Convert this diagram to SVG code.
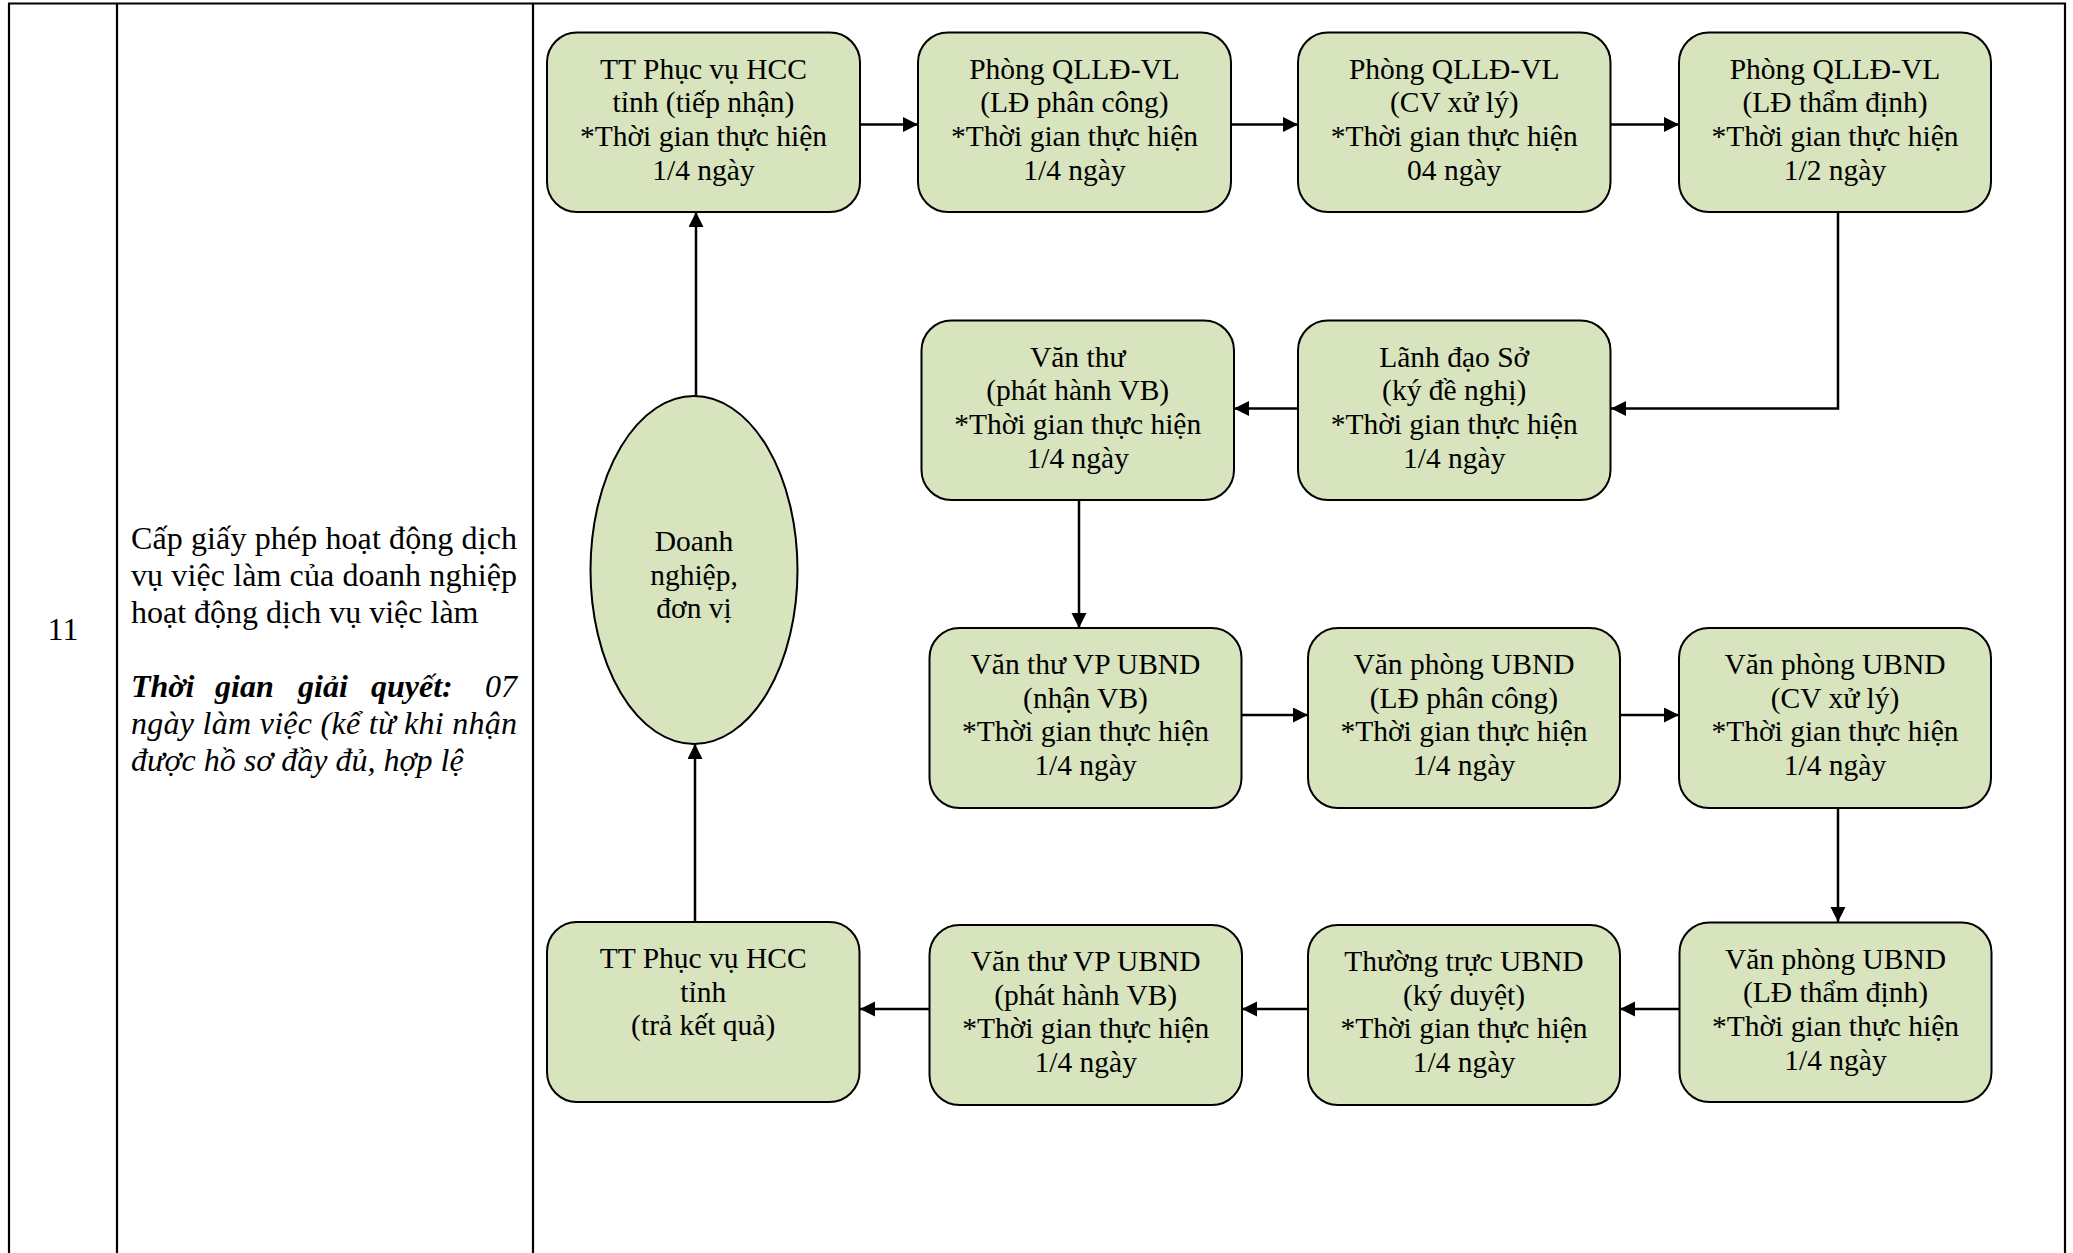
<svg xmlns="http://www.w3.org/2000/svg" width="2073" height="1253" viewBox="0 0 2073 1253">
<style>
.tbl{stroke:#000;stroke-width:2.2;fill:none}
.box{fill:#D7E4BD;stroke:#000;stroke-width:2}
.t{font-family:"Liberation Serif","Times New Roman",serif;font-size:29.5px;fill:#000;text-anchor:middle}
.c{font-family:"Liberation Serif","Times New Roman",serif;font-size:32px;fill:#000}
.bi{font-weight:bold;font-style:italic}
.i{font-style:italic}
.conn{stroke:#000;stroke-width:2.5;fill:none;marker-end:url(#arr)}
</style>
<defs>
<marker id="arr" markerUnits="userSpaceOnUse" markerWidth="16" markerHeight="16" refX="15" refY="7.5" orient="auto">
<path d="M0,0 L15,7.5 L0,15 z" fill="#000"/>
</marker>
</defs>
<rect width="2073" height="1253" fill="#fff"/>
<g id="table">
<line class="tbl" x1="8" y1="3.5" x2="2066" y2="3.5"/>
<line class="tbl" x1="9" y1="3.5" x2="9" y2="1253"/>
<line class="tbl" x1="117" y1="3.5" x2="117" y2="1253"/>
<line class="tbl" x1="533" y1="3.5" x2="533" y2="1253"/>
<line class="tbl" x1="2065" y1="3.5" x2="2065" y2="1253"/>
<text class="c" x="63" y="640" text-anchor="middle">11</text>
<text class="c" x="131" y="549" textLength="386" lengthAdjust="spacing">Cấp giấy phép hoạt động dịch</text>
<text class="c" x="131" y="586" textLength="386" lengthAdjust="spacing">vụ việc làm của doanh nghiệp</text>
<text class="c" x="131" y="623">hoạt động dịch vụ việc làm</text>
<text class="c bi" x="131" y="697">Thời</text>
<text class="c bi" x="215" y="697">gian</text>
<text class="c bi" x="298" y="697">giải</text>
<text class="c bi" x="371" y="697">quyết:</text>
<text class="c i" x="517" y="697" text-anchor="end">07</text>
<text class="c i" x="131" y="734" textLength="386" lengthAdjust="spacing">ngày làm việc (kể từ khi nhận</text>
<text class="c i" x="131" y="771">được hồ sơ đầy đủ, hợp lệ</text>
</g>
<g id="connectors">
<line class="conn" x1="860" y1="124.5" x2="918" y2="124.5"/>
<line class="conn" x1="1231" y1="124.5" x2="1298" y2="124.5"/>
<line class="conn" x1="1610" y1="124.5" x2="1679" y2="124.5"/>
<polyline class="conn" points="1838,212 1838,408.5 1611,408.5"/>
<line class="conn" x1="1298" y1="408.5" x2="1234" y2="408.5"/>
<line class="conn" x1="1079" y1="500" x2="1079" y2="628"/>
<line class="conn" x1="1241" y1="715" x2="1308" y2="715"/>
<line class="conn" x1="1620" y1="715" x2="1679" y2="715"/>
<line class="conn" x1="1838" y1="808" x2="1838" y2="922"/>
<line class="conn" x1="1679" y1="1009" x2="1620" y2="1009"/>
<line class="conn" x1="1308" y1="1009" x2="1242" y2="1009"/>
<line class="conn" x1="929" y1="1009" x2="860" y2="1009"/>
<line class="conn" x1="695" y1="922" x2="695" y2="744"/>
<line class="conn" x1="696" y1="396" x2="696" y2="212"/>
</g>
<g id="n1"><rect class="box" x="547" y="32.5" width="313" height="179.5" rx="30"/>
<text class="t" x="703.5" y="78.5">TT Phục vụ HCC</text><text class="t" x="703.5" y="112.2">tỉnh (tiếp nhận)</text><text class="t" x="703.5" y="145.8">*Thời gian thực hiện</text><text class="t" x="703.5" y="179.5">1/4 ngày</text></g>
<g id="n2"><rect class="box" x="918" y="32.5" width="313" height="179.5" rx="30"/>
<text class="t" x="1074.5" y="78.5">Phòng QLLĐ-VL</text><text class="t" x="1074.5" y="112.2">(LĐ phân công)</text><text class="t" x="1074.5" y="145.8">*Thời gian thực hiện</text><text class="t" x="1074.5" y="179.5">1/4 ngày</text></g>
<g id="n3"><rect class="box" x="1298" y="32.5" width="312.5" height="179.5" rx="30"/>
<text class="t" x="1454.2" y="78.5">Phòng QLLĐ-VL</text><text class="t" x="1454.2" y="112.2">(CV xử lý)</text><text class="t" x="1454.2" y="145.8">*Thời gian thực hiện</text><text class="t" x="1454.2" y="179.5">04 ngày</text></g>
<g id="n4"><rect class="box" x="1679" y="32.5" width="312" height="179.5" rx="30"/>
<text class="t" x="1835" y="78.5">Phòng QLLĐ-VL</text><text class="t" x="1835" y="112.2">(LĐ thẩm định)</text><text class="t" x="1835" y="145.8">*Thời gian thực hiện</text><text class="t" x="1835" y="179.5">1/2 ngày</text></g>
<g id="n5"><rect class="box" x="921.5" y="320.5" width="312.5" height="179.5" rx="30"/>
<text class="t" x="1077.7" y="366.5">Văn thư</text><text class="t" x="1077.7" y="400.2">(phát hành VB)</text><text class="t" x="1077.7" y="433.8">*Thời gian thực hiện</text><text class="t" x="1077.7" y="467.5">1/4 ngày</text></g>
<g id="n6"><rect class="box" x="1298" y="320.5" width="312.5" height="179.5" rx="30"/>
<text class="t" x="1454.2" y="366.5">Lãnh đạo Sở</text><text class="t" x="1454.2" y="400.2">(ký đề nghị)</text><text class="t" x="1454.2" y="433.8">*Thời gian thực hiện</text><text class="t" x="1454.2" y="467.5">1/4 ngày</text></g>
<g id="n7"><rect class="box" x="929.5" y="628" width="312" height="180" rx="30"/>
<text class="t" x="1085.5" y="674">Văn thư VP UBND</text><text class="t" x="1085.5" y="707.7">(nhận VB)</text><text class="t" x="1085.5" y="741.3">*Thời gian thực hiện</text><text class="t" x="1085.5" y="775">1/4 ngày</text></g>
<g id="n8"><rect class="box" x="1308" y="628" width="312" height="180" rx="30"/>
<text class="t" x="1464" y="674">Văn phòng UBND</text><text class="t" x="1464" y="707.7">(LĐ phân công)</text><text class="t" x="1464" y="741.3">*Thời gian thực hiện</text><text class="t" x="1464" y="775">1/4 ngày</text></g>
<g id="n9"><rect class="box" x="1679" y="628" width="312" height="180" rx="30"/>
<text class="t" x="1835" y="674">Văn phòng UBND</text><text class="t" x="1835" y="707.7">(CV xử lý)</text><text class="t" x="1835" y="741.3">*Thời gian thực hiện</text><text class="t" x="1835" y="775">1/4 ngày</text></g>
<g id="n10"><rect class="box" x="547" y="922" width="312.5" height="180" rx="30"/>
<text class="t" x="703.2" y="968">TT Phục vụ HCC</text><text class="t" x="703.2" y="1001.7">tỉnh</text><text class="t" x="703.2" y="1035.3">(trả kết quả)</text></g>
<g id="n11"><rect class="box" x="929.5" y="925" width="312.5" height="180" rx="30"/>
<text class="t" x="1085.7" y="971">Văn thư VP UBND</text><text class="t" x="1085.7" y="1004.7">(phát hành VB)</text><text class="t" x="1085.7" y="1038.3">*Thời gian thực hiện</text><text class="t" x="1085.7" y="1072">1/4 ngày</text></g>
<g id="n12"><rect class="box" x="1308" y="925" width="312" height="180" rx="30"/>
<text class="t" x="1464" y="971">Thường trực UBND</text><text class="t" x="1464" y="1004.7">(ký duyệt)</text><text class="t" x="1464" y="1038.3">*Thời gian thực hiện</text><text class="t" x="1464" y="1072">1/4 ngày</text></g>
<g id="n13"><rect class="box" x="1679.5" y="922.5" width="312" height="179.5" rx="30"/>
<text class="t" x="1835.5" y="968.5">Văn phòng UBND</text><text class="t" x="1835.5" y="1002.2">(LĐ thẩm định)</text><text class="t" x="1835.5" y="1035.8">*Thời gian thực hiện</text><text class="t" x="1835.5" y="1069.5">1/4 ngày</text></g>
<g id="n0"><ellipse class="box" cx="694" cy="570" rx="103.5" ry="174"/>
<text class="t" x="694" y="551">Doanh</text><text class="t" x="694" y="584.5">nghiệp,</text><text class="t" x="694" y="618">đơn vị</text></g>
</svg>
